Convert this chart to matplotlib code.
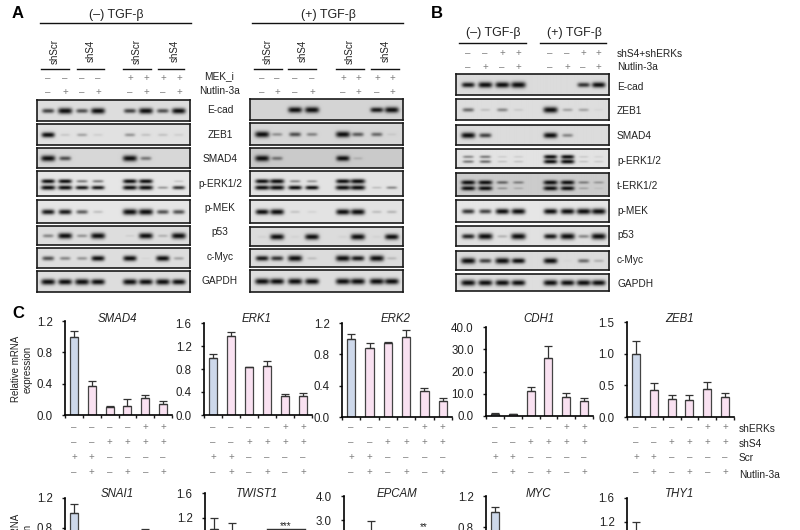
# Western blot panels (A, B) and qPCR bar charts (C)
import numpy as np
import matplotlib
matplotlib.use("Agg")
import matplotlib.pyplot as plt

plt.rcParams['font.family'] = ['Liberation Sans', 'DejaVu Sans']

W, H = 800, 530

# Blot names
A_BLOTS = ["E-cad", "ZEB1", "SMAD4", "p-ERK1/2", "p-MEK", "p53", "c-Myc", "GAPDH"]
B_BLOTS = ["E-cad", "ZEB1", "SMAD4", "p-ERK1/2", "t-ERK1/2", "p-MEK", "p53", "c-Myc", "GAPDH"]

# Band strength per lane (0 = nothing, 1 = saturated), read by eye
A_LEFT_BANDS = [
    [.55, .95, .5, .9, .55, .9, .5, .85],
    [.75, .08, .2, .06, .25, .1, .1, .06],
    [.95, .5, 0, 0, .95, .35, 0, 0],
    [.95, .9, .7, .7, .9, .95, .25, .6],
    [.7, .7, .45, .12, .95, .95, .5, .5],
    [.3, .9, .25, .95, .05, .9, .15, .95],
    [.5, .3, .25, .75, .8, .03, .8, .2],
    [.9, .85, .95, .85, .9, .85, .9, .8],
]
A_LEFT_UPPER = {3: [.8, .8, .35, .35, .85, .85, 0, .1]}
A_LEFT_BG = [.87, .88, .84, .9, .9, .87, .87, .87]

A_RIGHT_BANDS = [
    [0, 0, .9, .95, 0, 0, .7, .9],
    [.98, .25, .5, .3, .95, .45, .4, .05],
    [.95, .35, 0, 0, .8, .1, 0, 0],
    [.95, 1, .8, .75, 1, 1, .12, .3],
    [.75, .85, .1, .05, .85, .9, .12, .15],
    [.03, .9, .03, .9, .03, .95, .03, .85],
    [.7, .6, .95, .1, .95, .7, .95, .12],
    [.95, .9, .95, .9, .95, .95, .95, .9],
]
A_RIGHT_UPPER = {3: [.85, .95, .3, .25, .9, 1, 0, 0]}
A_RIGHT_BG = [.83, .84, .79, .89, .89, .86, .86, .87]

B_BANDS = [
    [.7, .9, .9, 1, 0, 0, .6, .8],
    [.4, .1, .3, .07, .95, .2, .2, .03],
    [.9, .55, 0, 0, .85, .3, 0, 0],
    [.35, .4, .1, .1, .8, .85, .1, .08],
    [.9, .9, .2, .12, .9, .85, .15, .05],
    [.6, .55, .8, .85, .8, .85, .9, .9],
    [.65, 1, .15, 1, .7, 1, .3, 1],
    [.95, .55, .95, .75, .85, .02, .4, .15],
    [.95, .9, .9, .85, .9, .85, .9, .85],
]
B_UPPER = {3: [.3, .35, .07, .07, .75, .75, .08, .05],
           4: [.9, .9, .4, .3, .9, .85, .3, .2]}
B_BG = [.86, .87, .86, .89, .8, .9, .88, .86, .87]

# qPCR means and top of the error bar
GENES_TOP = ["SMAD4", "ERK1", "ERK2", "CDH1", "ZEB1"]
SMAD4_VALS = [1.0, .37, .10, .11, .22, .14]
SMAD4_TOPS = [1.07, .43, .12, .20, .26, .18]
ERK1_VALS = [1.0, 1.37, .83, .86, .33, .33]
ERK1_TOPS = [1.06, 1.44, .84, .94, .37, .38]
ERK2_VALS = [1.0, .88, .95, 1.02, .33, .21]
ERK2_TOPS = [1.06, .94, .96, 1.11, .37, .24]
CDH1_VALS = [1.0, .8, 11.2, 26.0, 8.5, 6.8]
CDH1_TOPS = [1.2, 1.0, 13.2, 31.5, 10.3, 8.2]
ZEB1_VALS = [1.0, .43, .29, .27, .44, .31]
ZEB1_TOPS = [1.2, .54, .35, .34, .56, .38]

# Bottom row runs off the picture, only the upper part can be read
GENES_BOTTOM = ["SNAI1", "TWIST1", "EPCAM", "MYC", "THY1"]
SNAI1_VALS = [1.0, .3, .2, .3, .7, .35]
SNAI1_TOPS = [1.12, .35, .25, .35, .79, .4]
TWIST1_VALS = [1.01, .98, .2, .2, .2, .2]
TWIST1_TOPS = [1.19, 1.11, .25, .25, .25, .25]
EPCAM_VALS = [1.0, 2.3, 1.0, 1.0, 1.0, 1.0]
EPCAM_TOPS = [1.2, 2.96, 1.2, 1.2, 1.2, 1.2]
MYC_VALS = [1.0, .5, .4, .3, .4, .3]
MYC_TOPS = [1.06, .55, .45, .35, .45, .35]
THY1_VALS = [1.0, .5, .4, .4, .4, .4]
THY1_TOPS = [1.2, .6, .45, .45, .45, .45]

TICKS_12 = [0, .4, .8, 1.2]
TICKS_16 = [0, .4, .8, 1.2, 1.6]
TICKS_40 = [0, 10, 20, 30, 40]
TICKS_15 = [0, .5, 1.0, 1.5]

# Only these ticks of the bottom row fall inside the picture
TICKS_12_CUT = [.8, 1.2]
TICKS_16_CUT = [1.2, 1.6]
TICKS_4_CUT = [3, 4]

# +/- rows under the bar charts
SHERKS_ROW = "----++"
SHS4_ROW = "--++++"
SCR_ROW = "++----"
NUTLIN_ROW = "-+-+-+"

fig = plt.figure(figsize=(W / 100, H / 100), dpi=100)


def px_axes(x0, y0, x1, y1):
    # Axes from picture pixels (y counted from the top)
    return fig.add_axes([x0 / W, 1 - y1 / H, (x1 - x0) / W, (y1 - y0) / H])


# Page layer for all text and hand-placed lines
page = px_axes(0, 0, W, H)
page.set_xlim(0, W)
page.set_ylim(H, 0)
page.axis("off")
page.set_zorder(5)


def label(x, y, s, size=7.3, ha="center", color="#222222", **kw):
    page.text(x, y, s, fontsize=size, ha=ha, va="center", color=color, **kw)


def draw_blot(x0, y0, x1, y1, lanes, bands, upper, bg):
    # Paint the bands onto a small grey image, two pixels per picture pixel
    nx, ny = int((x1 - x0) * 2), int((y1 - y0) * 2)
    xx = np.linspace(x0, x1, nx)[None, :]
    yy = np.linspace(0, 1, ny)[:, None] * (y1 - y0)
    dark = np.zeros((ny, nx))
    main_y = .67 if upper is not None else .52
    rows = [(bands, main_y)]
    if upper is not None:
        rows.append((upper, .41))
    for vals, rel in rows:
        for cx, v in zip(lanes, vals):
            half = 4.5 + 2.8 * v
            tall = (1.2 + 2.0 * v) if upper is None else (1.0 + 1.4 * v)
            shape = np.exp(-((xx - cx) / half) ** 4 - ((yy - rel * (y1 - y0)) / tall) ** 2)
            dark += shape * min(1.0, v * 1.35)
    img = bg - (bg - 0.05) * np.clip(dark, 0, 1)
    ax = px_axes(x0, y0, x1, y1)
    ax.imshow(img, cmap="gray", vmin=0, vmax=1, aspect="auto", interpolation="bilinear")
    ax.set_xticks([])
    ax.set_yticks([])
    for s in ax.spines.values():
        s.set_linewidth(1.2)
        s.set_color("#1a1a1a")


def sign_row(xs, y, row):
    for x, c in zip(xs, row):
        label(x, y, "+" if c == "+" else "–", size=7, color="#808080")


def draw_bars(x0, y0, x1, y1, top, vals, tops, ticks, fmt, gene, title_y):
    ax = px_axes(x0, y0, x1, y1)
    xs = np.arange(6) + .5
    colors = ["#cdd8ea"] + ["#f9e1f1"] * 5
    ax.bar(xs, vals, width=.44, color=colors, edgecolor="#444444", linewidth=.9)
    errs = np.array(tops) - np.array(vals)
    ax.errorbar(xs, vals, yerr=[np.zeros(6), errs], fmt="none", ecolor="#333333",
                elinewidth=.9, capsize=2.6, capthick=.9)
    ax.set_xlim(0, 6)
    ax.set_ylim(0, top)
    ax.set_xticks(np.arange(7))
    ax.set_xticklabels([])
    ax.set_yticks(ticks)
    ax.set_yticklabels([fmt % t for t in ticks], fontsize=8.3, color="#222222")
    ax.tick_params(axis="both", length=2.4, width=1, color="#1a1a1a")
    ax.tick_params(axis="y", pad=6.5)
    ax.spines["top"].set_visible(False)
    ax.spines["right"].set_visible(False)
    ax.spines["left"].set_linewidth(1.2)
    ax.spines["bottom"].set_linewidth(1.2)
    ax.patch.set_alpha(0)
    label((x0 + x1) / 2 - 1, title_y, gene, size=8.3, style="italic")
    return x0 + (x1 - x0) * xs / 6


def main():
    # Panel A
    label(18, 14, "A", size=12, fontweight="bold", color="black")
    label(116, 15, "(–) TGF-β", size=9)
    label(328, 15, "(+) TGF-β", size=9)
    page.plot([40, 191], [22.5, 22.5], color="#111111", lw=1)
    page.plot([252, 403], [22.5, 22.5], color="#111111", lw=1)

    sh_names = ["shScr", "shS4", "shScr", "shS4"]
    for xs, segs in [([55, 91, 137, 175], [(41, 69), (77, 104), (123, 151), (158, 184)]),
                     ([268, 303, 350, 386], [(254, 282), (288, 316), (336, 364), (371, 399)])]:
        for x, seg, name in zip(xs, segs, sh_names):
            label(x, 51, name, size=7.0, rotation=90)
            page.plot(seg, [68.5, 68.5], color="#111111", lw=1)

    lanes_left = [48, 65, 82, 98, 130, 146, 163, 179]
    lanes_right = [262, 277, 295, 312, 343, 358, 377, 392]
    for lanes in (lanes_left, lanes_right):
        sign_row(lanes, 78, "----++++")
        sign_row(lanes, 92, "-+-+-+-+")
    label(219, 76, "MEK_i")
    label(220, 91, "Nutlin-3a")

    rows_left = [(100, 121), (124, 145), (148, 168), (171, 196), (200, 223), (226, 245), (248, 268), (271, 292)]
    rows_right = [(99, 120), (123, 145), (148, 168), (171, 196), (200, 223), (227, 246), (249, 267), (270, 292)]
    label_y = [110, 135, 159, 184, 208, 232, 257, 281]
    for i, name in enumerate(A_BLOTS):
        draw_blot(37, rows_left[i][0], 190, rows_left[i][1], lanes_left,
                  A_LEFT_BANDS[i], A_LEFT_UPPER.get(i), A_LEFT_BG[i])
        draw_blot(250, rows_right[i][0], 403, rows_right[i][1], lanes_right,
                  A_RIGHT_BANDS[i], A_RIGHT_UPPER.get(i), A_RIGHT_BG[i])
        label(220, label_y[i], name)

    # Panel B
    label(437, 14, "B", size=12, fontweight="bold", color="black")
    label(493, 33, "(–) TGF-β", size=9)
    label(574, 33, "(+) TGF-β", size=9)
    page.plot([459, 526], [43, 43], color="#111111", lw=1)
    page.plot([540, 606], [43, 43], color="#111111", lw=1)

    lanes_b = [468, 485, 502, 518, 550, 567, 583, 598]
    sign_row(lanes_b, 53, "--++--++")
    sign_row(lanes_b, 67, "-+-+-+-+")
    label(617, 54, "shS4+shERKs", ha="left")
    label(617, 67, "Nutlin-3a", ha="left")

    rows_b = [(74, 95), (99, 120), (125, 145), (149, 168), (173, 196), (200, 222), (226, 246), (251, 270), (274, 291)]
    label_b = [87, 111, 136, 161, 186, 211, 235, 260, 284]
    for i, name in enumerate(B_BLOTS):
        draw_blot(456, rows_b[i][0], 609, rows_b[i][1], lanes_b, B_BANDS[i], B_UPPER.get(i), B_BG[i])
        label(617, label_b[i], name, ha="left")

    # Panel C, top row
    label(18, 314, "C", size=12, fontweight="bold", color="black")
    tops_row = [
        (65, 321, 172, 415, 1.2, SMAD4_VALS, SMAD4_TOPS, TICKS_12, "%.1f"),
        (204, 323, 312, 415, 1.6, ERK1_VALS, ERK1_TOPS, TICKS_16, "%.1f"),
        (342, 323, 452, 417, 1.2, ERK2_VALS, ERK2_TOPS, TICKS_12, "%.1f"),
        (486, 327, 593, 416, 40.0, CDH1_VALS, CDH1_TOPS, TICKS_40, "%.1f"),
        (627, 322, 734, 417, 1.5, ZEB1_VALS, ZEB1_TOPS, TICKS_15, "%.1f"),
    ]
    for gene, spec in zip(GENES_TOP, tops_row):
        x0, y0, x1, y1, top, vals, tops, ticks, fmt = spec
        xs = draw_bars(x0, y0, x1, y1, top, vals, tops, ticks, fmt, gene, 319)
        sign_row(xs, 427, SHERKS_ROW)
        sign_row(xs, 442, SHS4_ROW)
        sign_row(xs, 457, SCR_ROW)
        sign_row(xs, 472, NUTLIN_ROW)

    label(739, 429, "shERKs", ha="left")
    label(739, 444, "shS4", ha="left")
    label(739, 458, "Scr", ha="left")
    label(739, 475, "Nutlin-3a", ha="left")
    label(22, 369, "Relative mRNA\nexpression", size=7, rotation=90, linespacing=1.15)

    # Panel C, bottom row (cut by the picture edge)
    bottom_row = [
        (65, 498, 172, 588, 1.2, SNAI1_VALS, SNAI1_TOPS, TICKS_12_CUT, "%.1f"),
        (205, 493, 312, 591, 1.6, TWIST1_VALS, TWIST1_TOPS, TICKS_16_CUT, "%.1f"),
        (344, 496, 452, 593, 4.0, EPCAM_VALS, EPCAM_TOPS, TICKS_4_CUT, "%.1f"),
        (486, 496, 593, 589, 1.2, MYC_VALS, MYC_TOPS, TICKS_12_CUT, "%.1f"),
        (627, 498, 734, 594, 1.6, THY1_VALS, THY1_TOPS, TICKS_16_CUT, "%.1f"),
    ]
    for gene, spec in zip(GENES_BOTTOM, bottom_row):
        x0, y0, x1, y1, top, vals, tops, ticks, fmt = spec
        draw_bars(x0, y0, x1, y1, top, vals, tops, ticks, fmt, gene, 494)
    label(22, 547, "Relative mRNA\nexpression", size=7, rotation=90, linespacing=1.15)

    # Significance marks visible at the bottom edge
    page.plot([267, 305], [529, 529], color="#333333", lw=1)
    label(286, 526.5, "***", size=7)
    label(424, 527, "**", size=7)

    fig.savefig("out.png", dpi=100)


main()
